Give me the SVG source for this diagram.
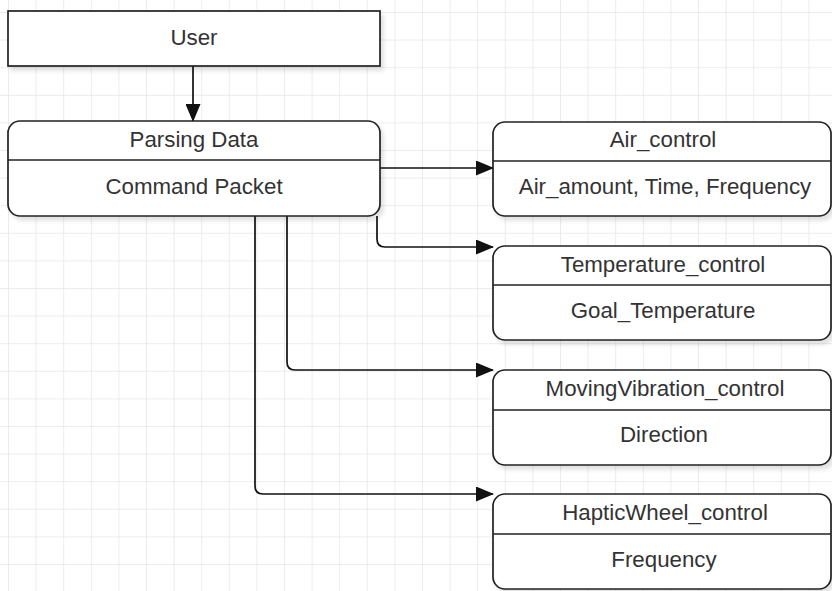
<svg xmlns="http://www.w3.org/2000/svg" width="832" height="591" viewBox="0 0 832 591">
<defs>
<pattern id="grid" x="8" y="12" width="27.6" height="27.6" patternUnits="userSpaceOnUse">
<path d="M0 0 H27.6 M0 0 V27.6" fill="none" stroke="#e6e6e6" stroke-width="1.5"/>
</pattern>
<marker id="arr" viewBox="0 0 18 15" refX="17" refY="7.5" markerWidth="18" markerHeight="15" markerUnits="userSpaceOnUse" orient="auto">
<path d="M0 0 L18 7.5 L0 15 Z" fill="#111"/>
</marker>
<filter id="sh" x="-5%" y="-10%" width="115%" height="130%">
<feGaussianBlur in="SourceAlpha" stdDeviation="2"/>
<feOffset dx="3" dy="4" result="b"/>
<feComponentTransfer><feFuncA type="linear" slope="0.12"/></feComponentTransfer>
<feMerge><feMergeNode/><feMergeNode in="SourceGraphic"/></feMerge>
</filter>
</defs>
<style>
.box{fill:#fff;stroke:#222;stroke-width:1.7}
.div{stroke:#222;stroke-width:1.5}
.t{font-family:"Liberation Sans",Arial,sans-serif;font-size:22.3px;fill:#333;text-anchor:middle}
.c{fill:none;stroke:#111;stroke-width:1.7;marker-end:url(#arr)}
</style>
<rect width="832" height="591" fill="#fff"/>
<rect width="832" height="591" fill="url(#grid)"/>

<g id="connectors">
<path class="c" d="M193 66 V121"/>
<path class="c" d="M380 168 H493"/>
<path class="c" d="M377 216 V239 Q377 247 385 247 H493"/>
<path class="c" d="M287 216 V362 Q287 370 295 370 H493"/>
<path class="c" d="M255 216 V486 Q255 494 263 494 H493"/>
</g>

<g id="user">
<rect class="box" x="8" y="11" width="372" height="55" filter="url(#sh)"/>
<text class="t" x="194" y="45">User</text>
</g>

<g id="parsing">
<rect class="box" x="8" y="121" width="372" height="95" rx="12" filter="url(#sh)"/>
<line class="div" x1="8" y1="160" x2="380" y2="160"/>
<text class="t" x="194" y="147">Parsing Data</text>
<text class="t" x="194" y="194">Command Packet</text>
</g>

<g id="air">
<rect class="box" x="493" y="122" width="338" height="94" rx="12" filter="url(#sh)"/>
<line class="div" x1="493" y1="161" x2="831" y2="161"/>
<text class="t" x="663" y="147">Air_control</text>
<text class="t" x="665" y="194">Air_amount, Time, Frequency</text>
</g>

<g id="temperature">
<rect class="box" x="493" y="246" width="338" height="94" rx="12" filter="url(#sh)"/>
<line class="div" x1="493" y1="285" x2="831" y2="285"/>
<text class="t" x="663" y="272">Temperature_control</text>
<text class="t" x="663" y="318">Goal_Temperature</text>
</g>

<g id="moving">
<rect class="box" x="493" y="370" width="338" height="95" rx="12" filter="url(#sh)"/>
<line class="div" x1="493" y1="410" x2="831" y2="410"/>
<text class="t" x="665" y="396">MovingVibration_control</text>
<text class="t" x="664" y="442">Direction</text>
</g>

<g id="haptic">
<rect class="box" x="493" y="494" width="338" height="95" rx="12" filter="url(#sh)"/>
<line class="div" x1="493" y1="534" x2="831" y2="534"/>
<text class="t" x="665" y="520">HapticWheel_control</text>
<text class="t" x="664" y="567">Frequency</text>
</g>
</svg>
